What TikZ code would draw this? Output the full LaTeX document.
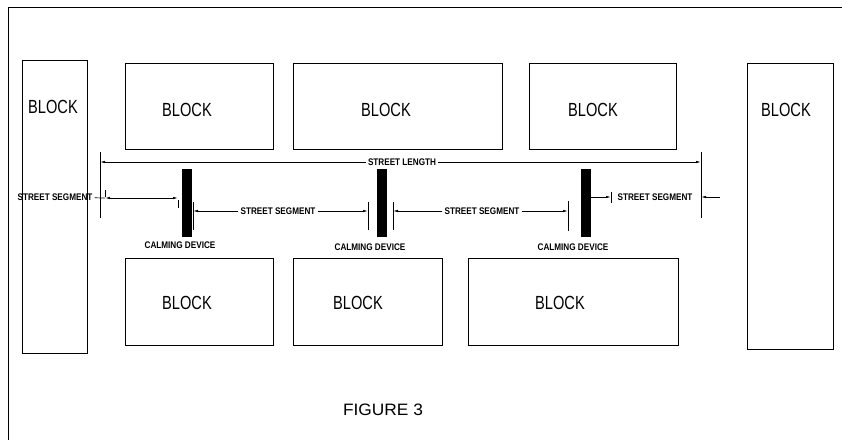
\documentclass[tikz,border=0pt]{standalone}
\usepackage{fontspec}
\newfontfamily\blockfont[FakeStretch=0.77]{Liberation Sans}
\newfontfamily\dimfont[FakeStretch=0.85]{Liberation Sans}
\newfontfamily\figfont[FakeStretch=1.05]{Liberation Sans}
\usepackage{tikz}
\usetikzlibrary{arrows.meta,positioning,calc}

\begin{document}
\begin{tikzpicture}[x=1pt,y=-1pt,>={Latex[length=5pt,width=2.4pt]},
  blk/.style={line width=0.9pt},
  ext/.style={line width=0.7pt},
  blocktext/.style={font=\blockfont\fontsize{19}{19}\selectfont,inner sep=0pt},
  dimtext/.style={font=\dimfont\bfseries\fontsize{9.6}{9.6}\selectfont,inner sep=2pt},
  device/.style={fill=black,draw=black,minimum width=9pt,minimum height=67pt,inner sep=0pt}]
\useasboundingbox (0,0) rectangle (842,440);
\draw[blk] (8,440) -- (8,7) -- (842,7);
\draw[blk] (22,60) rectangle (87,353);
\draw[blk] (125,63) rectangle (273,149);
\draw[blk] (293,63) rectangle (502,149);
\draw[blk] (529,63) rectangle (676,149);
\draw[blk] (747,63) rectangle (833,349);
\draw[blk] (125,258) rectangle (273,345);
\draw[blk] (293,258) rectangle (442,345);
\draw[blk] (468,258) rectangle (678,345);
\node[blocktext] (b1) at (53,107) {BLOCK};
\node[blocktext] (b2) at (187,110) {BLOCK};
\node[blocktext] (b3) at (386,110) {BLOCK};
\node[blocktext] (b4) at (593,110) {BLOCK};
\node[blocktext] (b5) at (786,110) {BLOCK};
\node[blocktext] (b6) at (187,303) {BLOCK};
\node[blocktext] (b7) at (358,303) {BLOCK};
\node[blocktext] (b8) at (560,303) {BLOCK};
\node[device] (cd1) at (186.5,202.5) {};
\node[device] (cd2) at (382,202.5) {};
\node[device] (cd3) at (585.5,202.5) {};
\node[dimtext] (cl1) at (180,245) {CALMING DEVICE};
\node[dimtext] (cl2) at (370,247) {CALMING DEVICE};
\node[dimtext] (cl3) at (573,247) {CALMING DEVICE};
\draw[ext] (100,152) -- (100,218);
\draw[ext] (701,152) -- (701,218);
\coordinate (sl-l) at (100,162);
\coordinate (sl-r) at (701,162);
\node[dimtext] (sl) at (402,162) {STREET LENGTH};
\draw[ext,->] (sl) -- (sl-l);
\draw[ext,->] (sl) -- (sl-r);
\draw[ext] (105,190) -- (105,197);
\draw[ext] (178,200) -- (178,208);
\coordinate (s1-l) at (105,198);
\coordinate (s1-r) at (178,198);
\node[dimtext] (ss1) at (55,197) {STREET SEGMENT};
\draw[ext] (ss1) -- (s1-l);
\draw[ext,<->] (s1-l) -- (s1-r);
\draw[ext] (193,202) -- (193,230);
\draw[ext] (368,202) -- (368,230);
\coordinate (s2-l) at (193,211);
\coordinate (s2-r) at (368,211);
\node[dimtext] (ss2) at (278,211) {STREET SEGMENT};
\draw[ext,->] (ss2) -- (s2-l);
\draw[ext,->] (ss2) -- (s2-r);
\draw[ext] (393,202) -- (393,230);
\draw[ext] (568,201) -- (568,231);
\coordinate (s3-l) at (393,211);
\coordinate (s3-r) at (568,211);
\node[dimtext] (ss3) at (482,211) {STREET SEGMENT};
\draw[ext,->] (ss3) -- (s3-l);
\draw[ext,->] (ss3) -- (s3-r);
\draw[ext] (611,192) -- (611,203);
\coordinate (s4-l) at (611,197);
\coordinate (s4-r) at (701,197);
\coordinate (s4-o) at (720,197);
\node[dimtext] (ss4) at (655,197) {STREET SEGMENT};
\draw[ext,->] (cd3.east |- s4-l) -- (s4-l);
\draw[ext,->] (s4-o) -- (s4-r);
\node[font=\figfont\fontsize{16.5}{16.5}\selectfont,inner sep=0pt] (fig) at (383,410) {FIGURE 3};
\end{tikzpicture}
\end{document}
